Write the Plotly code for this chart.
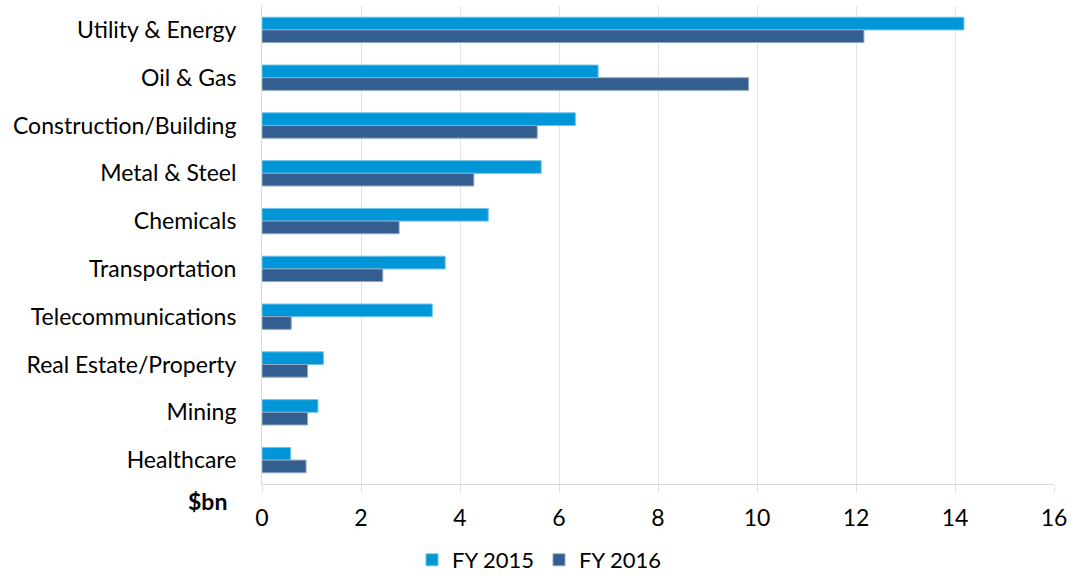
import plotly.graph_objects as go

categories = ["Utility & Energy", "Oil & Gas", "Construction/Building", "Metal & Steel",
              "Chemicals", "Transportation", "Telecommunications", "Real Estate/Property",
              "Mining", "Healthcare"]
fy2015 = [14.18, 6.79, 6.33, 5.64, 4.57, 3.70, 3.44, 1.24, 1.13, 0.58]
fy2016 = [12.16, 9.83, 5.56, 4.28, 2.77, 2.44, 0.59, 0.92, 0.92, 0.89]
x_ticks = [0, 2, 4, 6, 8, 10, 12, 14, 16]

FONT = "Lato"

fig = go.Figure()
fig.add_trace(go.Bar(y=categories, x=fy2015, name="FY 2015", orientation="h",
                     marker=dict(color="#0096D8", line=dict(color="#6EC3EA", width=1))))
fig.add_trace(go.Bar(y=categories, x=fy2016, name="FY 2016", orientation="h",
                     marker=dict(color="#345E8F", line=dict(color="#8FA8C6", width=1))))

fig.update_layout(
    width=1078, height=576,
    margin=dict(l=262, r=24, t=6, b=92, autoexpand=False),
    paper_bgcolor="white", plot_bgcolor="white",
    barmode="group", bargap=0.47, bargroupgap=0,
    font=dict(family=FONT, size=23, color="#000000"),
    showlegend=True,
    legend=dict(orientation="h", x=539 / 1078, xanchor="center", xref="container",
                y=1 - 560 / 576, yanchor="middle", yref="container",
                font=dict(family=FONT, size=22), traceorder="normal", itemwidth=30),
    xaxis=dict(range=[0, 16], tickvals=x_ticks, showgrid=True, gridcolor="#E3E3E3",
               gridwidth=1, zeroline=False, showline=True, linecolor="#D9D9D9",
               ticks="outside", ticklen=8, tickcolor="#E3E3E3", ticklabelstandoff=5,
               automargin=False, tickfont=dict(family=FONT, size=23)),
    yaxis=dict(autorange="reversed", showline=True, linecolor="#D9D9D9",
               ticks="", ticklabelstandoff=20, automargin=False,
               tickfont=dict(family=FONT, size=23)),
    annotations=[dict(text="<b>$bn</b>", x=(207 - 262) / 792, y=(484 - 501) / 478,
                      xref="paper", yref="paper", xanchor="center", yanchor="middle",
                      showarrow=False, font=dict(family=FONT, size=23))],
)

fig.write_html("out.html", config={"displayModeBar": False},
               post_script="document.body.style.margin='0';")
